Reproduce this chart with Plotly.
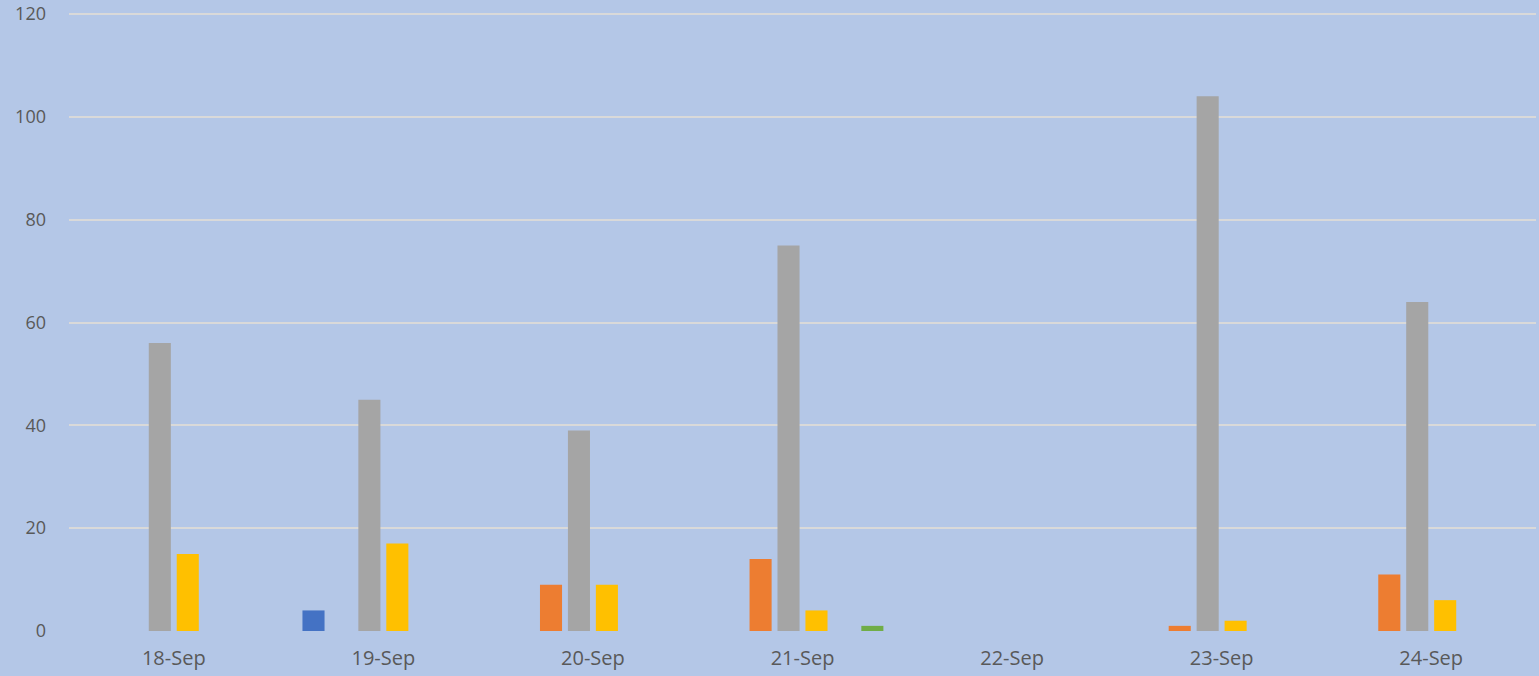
import plotly.graph_objects as go

categories = ["18-Sep", "19-Sep", "20-Sep", "21-Sep", "22-Sep", "23-Sep", "24-Sep"]
series_names = ["Series1", "Series2", "Series3", "Series4", "Series5", "Series6"]
s1 = [0, 4, 0, 0, 0, 0, 0]
s2 = [0, 0, 9, 14, 0, 1, 11]
s3 = [56, 45, 39, 75, 0, 104, 64]
s4 = [15, 17, 9, 4, 0, 2, 6]
s5 = [0, 0, 0, 0, 0, 0, 0]
s6 = [0, 0, 0, 1, 0, 0, 0]
colors = ["#4472C4", "#ED7D31", "#A5A5A5", "#FFC000", "#5B9BD5", "#70AD47"]
y_ticks = [0, 20, 40, 60, 80, 100, 120]

fig = go.Figure()
for name, vals, col in zip(series_names, [s1, s2, s3, s4, s5, s6], colors):
    fig.add_trace(go.Bar(x=categories, y=vals, name=name, marker_color=col,
                         marker_line_width=0))

fig.update_layout(
    width=1539, height=676,
    barmode="group", bargap=0.2, bargroupgap=0.21,
    paper_bgcolor="#B4C7E7", plot_bgcolor="#B4C7E7",
    margin=dict(l=69, r=3, t=13, b=45),
    showlegend=False,
    font=dict(family="Open Sans", size=18, color="#595959"),
)
fig.update_yaxes(range=[0, 120.2], tickvals=y_ticks, showgrid=True,
                 gridcolor="#D9D9D9", gridwidth=2, zeroline=False,
                 showline=False, ticklabelstandoff=22,
                 ticklabeloverflow="allow", automargin=False)
fig.update_xaxes(showgrid=False, showline=False, ticklabelstandoff=13,
                 tickfont=dict(size=20), automargin=False)

fig.write_html("out.html", config={"displayModeBar": False},
               post_script="document.body.style.margin='0';document.body.style.padding='0';")
